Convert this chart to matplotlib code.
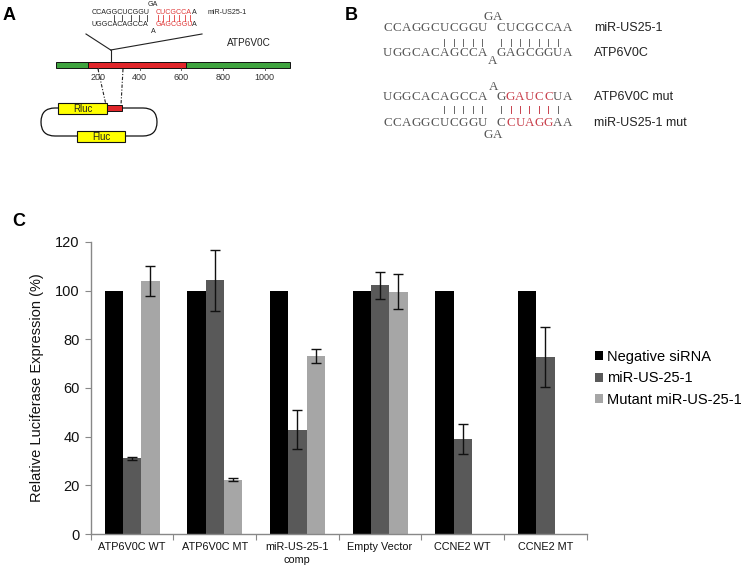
import numpy as np
import matplotlib
matplotlib.use("Agg")
import matplotlib.pyplot as plt
from matplotlib.patches import Rectangle, FancyBboxPatch

# ---------------- data ----------------
categories = ["ATP6V0C WT", "ATP6V0C MT", "miR-US-25-1\ncomp", "Empty Vector", "CCNE2 WT", "CCNE2 MT"]
series_names = ["Negative siRNA", "miR-US-25-1", "Mutant miR-US-25-1"]
neg_sirna = [100, 100, 100, 100, 100, 100]
mir_us25 = [31.1, 104.2, 42.8, 102.1, 38.9, 72.6]
mir_us25_err = [0.7, 12.6, 8.0, 5.5, 6.2, 12.4]
mutant_mir = [103.9, 22.2, 73.1, 99.5, np.nan, np.nan]
mutant_mir_err = [6.3, 0.6, 2.9, 7.3, np.nan, np.nan]
y_ticks = [0, 20, 40, 60, 80, 100, 120]

gene_length = 1120
insert_region = (152, 622)
site_position = 261
gene_ticks = [200, 400, 600, 800, 1000]

colors = ["#000000", "#595959", "#a6a6a6"]
plt.rcParams['font.family'] = ['Liberation Sans', 'DejaVu Sans']

W, H = 742, 570
fig = plt.figure(figsize=(W / 100, H / 100), dpi=100)

# ---------------- panel C ----------------
ax = fig.add_axes([90.7 / W, 1 - 534 / H, (586.7 - 90.7) / W, (534 - 241.8) / H])
x = np.arange(len(categories))
bw = 0.222
series = [neg_sirna, mir_us25, mutant_mir]
errs = [None, mir_us25_err, mutant_mir_err]
for i, (vals, err) in enumerate(zip(series, errs)):
    ax.bar(x + (i - 1) * bw, vals, width=bw, color=colors[i], label=series_names[i],
           yerr=err, error_kw=dict(ecolor="#111111", elinewidth=1.0, capsize=3.5, capthick=1.0))
ax.set_xlim(-0.5, len(categories) - 0.5)
ax.set_ylim(0, 120)
ax.set_yticks(y_ticks)
ax.tick_params(axis='y', labelsize=10.5, length=4, color="#888888", pad=4, labelcolor="#111111")
ax.set_xticks(np.arange(len(categories) + 1) - 0.5, minor=False)
ax.set_xticklabels([])
ax.set_xticks(x, minor=True)
ax.set_xticklabels(categories, minor=True, fontsize=7.8, linespacing=1.3)
ax.tick_params(axis='x', which='major', length=4, color="#888888")
ax.tick_params(axis='x', which='minor', length=0, pad=6, labelcolor="#111111")
for s in ["top", "right"]:
    ax.spines[s].set_visible(False)
for s in ["left", "bottom"]:
    ax.spines[s].set_color("#888888")
    ax.spines[s].set_linewidth(1.0)
ax.set_ylabel("Relative Luciferase Expression (%)", fontsize=10.5, labelpad=8, color="#111111")
ax.legend(loc="upper left", bbox_to_anchor=(595 / W, 1 - 350 / H), bbox_transform=fig.transFigure,
          frameon=False, fontsize=10.5, handlelength=0.55, handleheight=0.55, handletextpad=0.25,
          labelspacing=0.5, borderaxespad=0, borderpad=0)

# ---------------- overlay for panels A and B ----------------
ov = fig.add_axes([0, 0, 1, 1], zorder=-1)
ov.set_xlim(0, W)
ov.set_ylim(H, 0)
ov.axis("off")

ov.text(9, 16, "A", fontsize=13, fontweight="bold", ha="center", va="center")
ov.text(351.5, 16, "B", fontsize=13, fontweight="bold", ha="center", va="center")
ov.text(18.5, 221, "C", fontsize=13, fontweight="bold", ha="center", va="center")

# --- panel A ---
redA = "#e03a3a"
fsA = 5.1
ov.text(92, 12, "CCAGGCUCGGU", fontsize=fsA, ha="left", va="center", color="#222222")
ov.text(147.5, 5, "GA", fontsize=fsA, ha="left", va="center", color="#222222")
ov.text(156, 12, "CUCGCCA", fontsize=fsA, ha="left", va="center", color=redA)
ov.text(192, 12, "A", fontsize=fsA, ha="left", va="center", color="#222222")
ov.text(208, 12, "miR-US25-1", fontsize=fsA, ha="left", va="center", color="#222222")
ov.text(92, 25, "UGGCACAGCCA", fontsize=fsA, ha="left", va="center", color="#222222")
ov.text(150.5, 31.5, "A", fontsize=fsA, ha="left", va="center", color="#222222")
ov.text(156, 25, "GAGCGGU", fontsize=fsA, ha="left", va="center", color=redA)
ov.text(192, 25, "A", fontsize=fsA, ha="left", va="center", color="#222222")
for xx in np.linspace(114, 147, 5):
    ov.plot([xx, xx], [14.5, 20.5], color="#333333", lw=0.6)
for xx in np.linspace(158, 190, 7):
    ov.plot([xx, xx], [14.5, 20.5], color=redA, lw=0.6)
ov.text(227, 43, "ATP6V0C", fontsize=7.2, ha="left", va="center", color="#222222")

def gx(nt):
    return 56.3 + 0.2085 * nt

ov.plot([86, 110.7], [34, 50], color="#222222", lw=0.8)
ov.plot([202, 110.7], [34, 50], color="#222222", lw=0.8)
ov.plot([gx(site_position)] * 2, [50, 62.3], color="#222222", lw=0.8)
ov.add_patch(Rectangle((gx(0), 62.3), gx(gene_length) - gx(0), 5.5, facecolor="#3fa33f",
                       edgecolor="#111111", lw=0.7))
ov.add_patch(Rectangle((gx(insert_region[0]), 62.3), gx(insert_region[1]) - gx(insert_region[0]), 5.5,
                       facecolor="#e0262a", edgecolor="#111111", lw=0.7))
for t in gene_ticks:
    ov.plot([gx(t)] * 2, [67.8, 69.5], color="#444444", lw=0.6)
    ov.text(gx(t), 77, str(t), fontsize=6.5, ha="center", va="center", color="#333333")
ov.plot([98, 106], [69, 105], color="#222222", lw=0.8, ls=(0, (3, 1.5, 1, 1.5)))
ov.plot([123, 121], [69, 105], color="#222222", lw=0.8, ls=(0, (3, 1.5, 1, 1.5)))
ov.add_patch(FancyBboxPatch((41, 108), 116, 28, boxstyle="round,pad=0,rounding_size=14",
                            facecolor="none", edgecolor="#111111", lw=0.9))
ov.add_patch(Rectangle((58, 103), 49, 11, facecolor="#ffff00", edgecolor="#111111", lw=0.8, zorder=3))
ov.add_patch(Rectangle((107, 105), 15, 6, facecolor="#e0262a", edgecolor="#111111", lw=0.7, zorder=3))
ov.add_patch(Rectangle((77, 131), 48, 11, facecolor="#ffff00", edgecolor="#111111", lw=0.8, zorder=3))
ov.text(82.5, 108.5, "Rluc", fontsize=7, ha="center", va="center", color="#222222", zorder=4)
ov.text(101, 136.5, "Fluc", fontsize=7, ha="center", va="center", color="#222222", zorder=4)

# --- panel B ---
serif = ["Liberation Serif", "DejaVu Serif"]
fsB = 9.4
x0B, cw = 383, 9.45
grayB = "#555555"
redB = "#c8404c"

def seq(idx, y, s, color=grayB):
    for k, ch in enumerate(s):
        ov.text(x0B + cw * (idx + k + 0.5), y, ch, fontsize=fsB, family=serif,
                ha="center", va="center", color=color)

def bars(idxs, y, color="#666666"):
    for i in idxs:
        xx = x0B + cw * (i + 0.5)
        ov.plot([xx, xx], [y - 3.5, y + 3.5], color=color, lw=0.7)

seq(0, 28, "CCAGGCUCGGU")
seq(10.6, 17, "GA")
seq(12, 28, "CUCGCCAA")
bars(list(range(6, 11)) + list(range(12, 19)), 42)
seq(0, 53, "UGGCACAGCCA")
seq(11.1, 61, "A")
seq(12, 53, "GAGCGGUA")

seq(0, 97, "UGGCACAGCCA")
seq(11.2, 87, "A")
seq(12, 97, "G")
seq(13, 97, "GAUCC", redB)
seq(18, 97, "UA")
bars(list(range(6, 11)) + [12, 18], 109)
bars(range(13, 18), 109, redB)
seq(0, 123, "CCAGGCUCGGU")
seq(12, 123, "C")
seq(13, 123, "CUAGG", redB)
seq(18, 123, "AA")
seq(10.6, 134.5, "GA")

fsL = 9
ov.text(594, 28, "miR-US25-1", fontsize=fsL, ha="left", va="center", color="#222222")
ov.text(594, 53, "ATP6V0C", fontsize=fsL, ha="left", va="center", color="#222222")
ov.text(594, 97, "ATP6V0C mut", fontsize=fsL, ha="left", va="center", color="#222222")
ov.text(594, 123, "miR-US25-1 mut", fontsize=fsL, ha="left", va="center", color="#222222")

fig.savefig("out.png", dpi=100)
